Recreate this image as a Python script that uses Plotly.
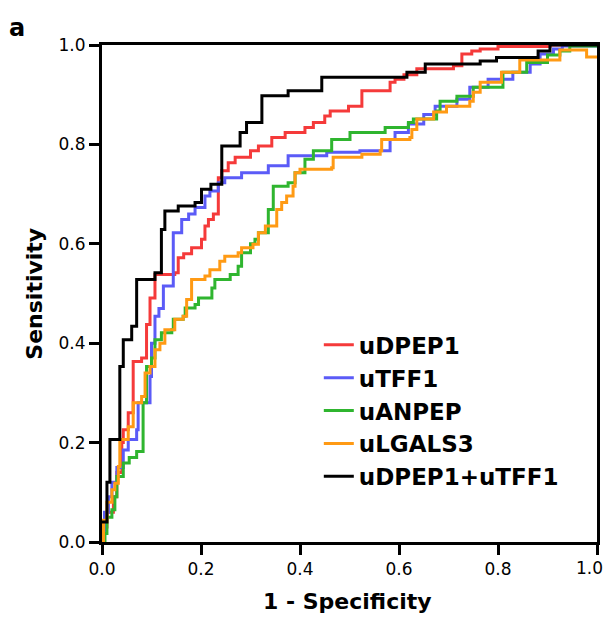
import plotly.graph_objects as go

# ROC step curves: (1 - specificity, sensitivity) corner points
names = ["uDPEP1", "uTFF1", "uANPEP", "uLGALS3", "uDPEP1+uTFF1"]

dpep1_x = [0, 0.005, 0.01, 0.023, 0.03, 0.04, 0.043, 0.053, 0.063, 0.08, 0.09, 0.097, 0.107, 0.147, 0.154, 0.165,
           0.181, 0.201, 0.208, 0.215, 0.225, 0.235, 0.242, 0.255, 0.269, 0.3, 0.316, 0.343, 0.37, 0.41, 0.427,
           0.45, 0.461, 0.498, 0.525, 0.582, 0.592, 0.61, 0.636, 0.71, 0.727, 0.747, 0.764, 0.80, 0.905, 1.0]
dpep1_y = [0, 0.03, 0.06, 0.091, 0.14, 0.2, 0.226, 0.26, 0.363, 0.37, 0.4375, 0.491, 0.538, 0.542, 0.572, 0.58,
           0.592, 0.609, 0.636, 0.649, 0.66, 0.733, 0.747, 0.763, 0.774, 0.787, 0.797, 0.814, 0.824, 0.834, 0.844,
           0.857, 0.867, 0.877, 0.908, 0.925, 0.931, 0.94, 0.952, 0.958, 0.982, 0.988, 0.992, 0.997, 1.0, 1.0]

tff1_x = [0, 0.005, 0.013, 0.02, 0.03, 0.043, 0.053, 0.07, 0.073, 0.097, 0.1, 0.107, 0.115, 0.124, 0.144, 0.161,
          0.175, 0.188, 0.208, 0.218, 0.235, 0.248, 0.282, 0.336, 0.376, 0.454, 0.521, 0.582, 0.592, 0.619, 0.65,
          0.673, 0.717, 0.743, 0.78, 0.83, 0.865, 0.885, 0.912, 0.93, 1.0]
tff1_y = [0, 0.06, 0.091, 0.12, 0.15, 0.185, 0.206, 0.226, 0.28, 0.333, 0.40, 0.454, 0.47, 0.515, 0.622, 0.649,
          0.66, 0.673, 0.696, 0.706, 0.723, 0.733, 0.743, 0.757, 0.777, 0.784, 0.787, 0.81, 0.824, 0.841, 0.86,
          0.877, 0.891, 0.915, 0.931, 0.945, 0.962, 0.982, 0.992, 0.998, 1.0]

anpep_x = [0, 0.006, 0.01, 0.02, 0.026, 0.03, 0.043, 0.055, 0.07, 0.083, 0.09, 0.1, 0.107, 0.12, 0.141, 0.144,
           0.164, 0.168, 0.188, 0.195, 0.222, 0.228, 0.259, 0.275, 0.282, 0.3, 0.309, 0.316, 0.336, 0.346, 0.376,
           0.39, 0.41, 0.427, 0.464, 0.501, 0.572, 0.619, 0.629, 0.676, 0.683, 0.717, 0.75, 0.81, 0.858, 0.9,
           0.925, 0.945, 1.0]
anpep_y = [0, 0.017, 0.05, 0.065, 0.091, 0.132, 0.159, 0.17, 0.182, 0.28, 0.353, 0.37, 0.407, 0.421, 0.427, 0.448,
           0.454, 0.471, 0.478, 0.491, 0.511, 0.528, 0.538, 0.555, 0.582, 0.6, 0.609, 0.622, 0.669, 0.716, 0.723,
           0.743, 0.77, 0.787, 0.81, 0.824, 0.834, 0.844, 0.851, 0.867, 0.887, 0.897, 0.915, 0.945, 0.965, 0.98,
           0.988, 0.998, 1.0]

lgals3_x = [0, 0.003, 0.01, 0.02, 0.026, 0.033, 0.036, 0.053, 0.063, 0.08, 0.087, 0.097, 0.107, 0.117, 0.127,
            0.147, 0.164, 0.171, 0.181, 0.208, 0.218, 0.238, 0.248, 0.275, 0.282, 0.305, 0.316, 0.33, 0.353, 0.363,
            0.373, 0.386, 0.39, 0.4, 0.464, 0.467, 0.525, 0.562, 0.565, 0.622, 0.626, 0.636, 0.67, 0.696, 0.743,
            0.75, 0.764, 0.807, 0.844, 0.925, 0.979, 1.0]
lgals3_y = [0, 0.044, 0.08, 0.105, 0.118, 0.152, 0.206, 0.232, 0.28, 0.293, 0.34, 0.353, 0.387, 0.40, 0.427,
            0.448, 0.454, 0.488, 0.528, 0.535, 0.548, 0.565, 0.575, 0.582, 0.592, 0.599, 0.622, 0.636, 0.669, 0.683,
            0.696, 0.716, 0.743, 0.75, 0.753, 0.774, 0.78, 0.787, 0.81, 0.814, 0.83, 0.851, 0.865, 0.877, 0.887,
            0.905, 0.925, 0.945, 0.97, 0.99, 0.976, 0.976]

combo_x = [0, 0.01, 0.016, 0.036, 0.043, 0.06, 0.07, 0.107, 0.12, 0.127, 0.154, 0.188, 0.201, 0.22, 0.242, 0.279,
           0.292, 0.323, 0.376, 0.444, 0.616, 0.653, 0.764, 0.797, 0.881, 0.905, 1.0]
combo_y = [0.04, 0.12, 0.206, 0.353, 0.407, 0.434, 0.528, 0.542, 0.629, 0.666, 0.676, 0.683, 0.71, 0.72, 0.797,
           0.824, 0.844, 0.898, 0.908, 0.935, 0.945, 0.962, 0.968, 0.975, 0.988, 1.0, 1.0]

xs = [dpep1_x, tff1_x, anpep_x, lgals3_x, combo_x]
ys = [dpep1_y, tff1_y, anpep_y, lgals3_y, combo_y]
colors = ["#f53a3a", "#5b5bf7", "#2fb52f", "#ff9a14", "#000000"]

x_ticks = [0.0, 0.2, 0.4, 0.6, 0.8, 1.0]
y_ticks = [0.0, 0.2, 0.4, 0.6, 0.8, 1.0]
x_ticktext = ["0.0", "0.2", "0.4", "0.6", "0.8", ""]   # last label drawn as an annotation nudged inside the page
last_x_label = "1.0"
y_ticktext = ["0.0", "0.2", "0.4", "0.6", "0.8", "1.0"]

FONT = "DejaVu Sans"

fig = go.Figure()
for n, x, y, c in zip(names, xs, ys, colors):
    fig.add_trace(go.Scatter(x=x, y=y, mode="lines", name=f"<b>{n}</b>",
                             line=dict(color=c, width=3, shape="hv")))

tick_font = dict(family=FONT, size=17, color="black")
axis_common = dict(range=[0, 1], showline=True, linewidth=3, linecolor="black", mirror=True, ticks="outside",
                   ticklen=10, tickwidth=3, tickcolor="black", showgrid=False, zeroline=False, automargin=False,
                   tickfont=tick_font)

# page body has an 8px margin: size/margins compensate so the plot lands where the reference has it
fig.update_layout(
    width=604, height=611,
    margin=dict(l=94, r=15, t=37, b=77),
    plot_bgcolor="white", paper_bgcolor="white",
    xaxis=dict(**axis_common, tickvals=x_ticks, ticktext=x_ticktext),
    yaxis=dict(**axis_common, tickvals=y_ticks, ticktext=y_ticktext),
    legend=dict(x=0.438, y=0.44, xanchor="left", yanchor="top", bgcolor="rgba(0,0,0,0)",
                font=dict(family=FONT, size=23, color="black"), itemwidth=30),
    showlegend=True,
)

fig.add_annotation(text=last_x_label, xref="x", yref="paper", x=x_ticks[-1], y=0, xanchor="center",
                   yanchor="top", xshift=-8, yshift=-14, showarrow=False, font=tick_font)

title_font = dict(family=FONT, size=22, color="black")
fig.add_annotation(text="<b>1 - Specificity</b>", xref="paper", yref="paper", x=0.495, y=-0.12,
                   xanchor="center", yanchor="middle", showarrow=False, font=title_font)
fig.add_annotation(text="<b>Sensitivity</b>", xref="paper", yref="paper", x=-0.137, y=0.50, textangle=-90,
                   xanchor="center", yanchor="middle", showarrow=False, font=title_font)
fig.add_annotation(text="<b>a</b>", xref="paper", yref="paper", x=-0.172, y=1.0,
                   xanchor="center", yanchor="bottom", yshift=1, showarrow=False,
                   font=dict(family=FONT, size=24, color="black"))

fig.write_html("out.html")
